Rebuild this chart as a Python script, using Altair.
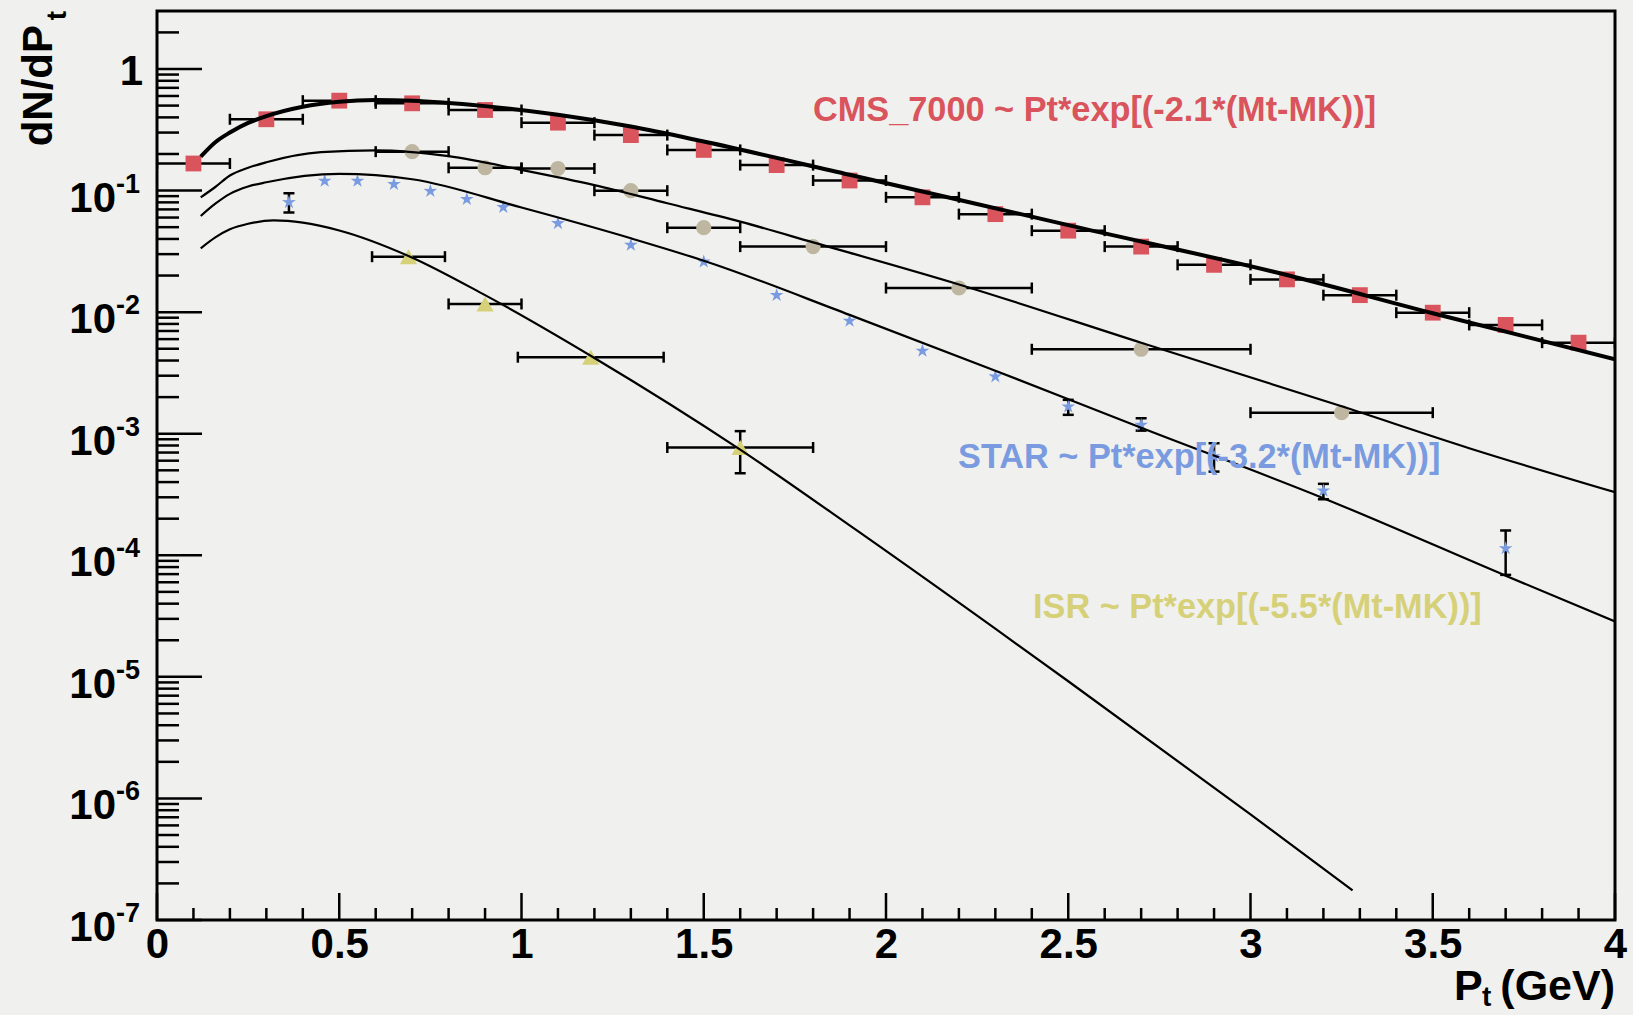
import altair as alt
import pandas as pd

# ---------------- data ----------------
# CMS 7 TeV points: pT bin centre, dN/dpT, half bin width
cms_pt = [0.1, 0.3, 0.5, 0.7, 0.9, 1.1, 1.3, 1.5, 1.7, 1.9,
          2.1, 2.3, 2.5, 2.7, 2.9, 3.1, 3.3, 3.5, 3.7, 3.9]
cms_y = [0.167, 0.386, 0.549, 0.522, 0.46, 0.362, 0.286, 0.216, 0.162, 0.121,
         0.088, 0.064, 0.0468, 0.0346, 0.0245, 0.0186, 0.0138, 0.0099, 0.00785, 0.00561]
cms_dx = [0.1, 0.1, 0.1, 0.1, 0.1, 0.1, 0.1, 0.1, 0.1, 0.1,
          0.1, 0.1, 0.1, 0.1, 0.1, 0.1, 0.1, 0.1, 0.1, 0.1]

# intermediate data set (circles)
mid_pt = [0.7, 0.9, 1.1, 1.3, 1.5, 1.8, 2.2, 2.7, 3.25]
mid_y = [0.209, 0.154, 0.152, 0.0998, 0.0495, 0.0346, 0.0158, 0.00495, 0.00149]
mid_dx = [0.1, 0.1, 0.1, 0.1, 0.1, 0.2, 0.2, 0.3, 0.25]

# STAR points (stars)
star_pt = [0.362, 0.46, 0.55, 0.65, 0.75, 0.85, 0.95, 1.1, 1.3, 1.5,
           1.7, 1.9, 2.1, 2.3, 2.5, 2.7, 2.9, 3.2, 3.7]
star_y = [0.080, 0.12, 0.12, 0.113, 0.099, 0.085, 0.073, 0.0538, 0.0357, 0.026,
          0.0138, 0.00847, 0.0048, 0.00295, 0.00167, 0.00118, 0.00065, 0.00034, 0.000114]
# STAR points with visible vertical errors
star_err_pt = [0.362, 2.5, 2.7, 2.9, 3.2, 3.7]
star_err_lo = [0.066, 0.00143, 0.00106, 0.000488, 0.000289, 0.000069]
star_err_hi = [0.095, 0.0019, 0.00134, 0.000835, 0.000387, 0.00016]

# ISR points (triangles)
isr_pt = [0.69, 0.9, 1.19, 1.6]
isr_y = [0.0286, 0.01168, 0.00426, 0.00077]
isr_dx = [0.1, 0.1, 0.2, 0.2]
isr_err_pt = [1.6]
isr_err_lo = [0.000473]
isr_err_hi = [0.00105]

# fitted curves Pt*exp[-b*(Mt-MK)]
fit_cms_pt = [0.12, 0.16, 0.2, 0.25, 0.3, 0.4, 0.5, 0.6, 0.7, 0.9, 1.1, 1.3, 1.5,
              1.9, 2.5, 3.1, 3.5, 4.0]
fit_cms_y = [0.19, 0.25, 0.30, 0.36, 0.41, 0.49, 0.538, 0.555, 0.549, 0.495, 0.42,
             0.336, 0.253, 0.135, 0.052, 0.0202, 0.0098, 0.0041]

fit_mid_pt = [0.12, 0.16, 0.2, 0.25, 0.3, 0.45, 0.6, 0.8, 1.0, 1.2, 1.4, 1.6, 1.8,
              2.2, 2.7, 3.25, 3.6, 4.0]
fit_mid_y = [0.088, 0.107, 0.133, 0.154, 0.171, 0.207, 0.214, 0.192, 0.148, 0.111,
             0.0786, 0.0555, 0.0375, 0.0169, 0.0056, 0.00168, 0.00076, 0.00033]

fit_star_pt = [0.12, 0.16, 0.2, 0.25, 0.3, 0.5, 0.7, 1.0, 1.3, 1.5, 1.9, 2.3, 2.7,
               3.2, 3.7, 4.0]
fit_star_y = [0.0618, 0.078, 0.094, 0.108, 0.117, 0.137, 0.124, 0.0725, 0.0405,
              0.0265, 0.0095, 0.0033, 0.00112, 0.000295, 0.000068, 0.0000285]

fit_isr_pt = [0.12, 0.16, 0.2, 0.25, 0.32, 0.4, 0.5, 0.69, 0.9, 1.2, 1.6, 1.92,
              2.5, 3.0, 3.28]
fit_isr_y = [0.0335, 0.0412, 0.048, 0.0533, 0.0568, 0.0545, 0.047, 0.029, 0.0138,
             0.0042, 0.00074, 0.00016, 0.0000092, 0.00000074, 0.000000175]

# axis tick values and labels
x_label_values = [0, 0.5, 1, 1.5, 2, 2.5, 3, 3.5, 4]
x_minor = [round(0.1 * i, 1) for i in range(1, 40) if i % 5 != 0]
y_decades = [1e-1, 1e-2, 1e-3, 1e-4, 1e-5, 1e-6, 1e-7]
y_exponents = ["-1", "-2", "-3", "-4", "-5", "-6", "-7"]
y_major = [1.0] + y_decades
y_minor = [2.0] + [k * d for d in y_decades for k in range(2, 10)]

# ---------------- chart ----------------
W, H = 1458, 909
FONT = "Liberation Sans"
RED, GREY, BLUE, YELLOW = "#d9545c", "#beb6a0", "#7a9be0", "#d6d078"
BG = "#f0f1ee"

xs = alt.Scale(domain=[0, 4], nice=False, zero=False)
ys = alt.Scale(type="log", domain=[1e-7, 3], nice=False)
x_axis = alt.Axis(values=x_label_values, format="~g", ticks=False, domain=False,
                  grid=False, labelFlush=False, labelOverlap=False,
                  labelFont=FONT, labelFontWeight="bold", labelFontSize=42,
                  labelColor="black", labelPadding=4, title=None)


def X(field):
    return alt.X(field, type="quantitative", scale=xs, axis=x_axis)


def Y(field):
    return alt.Y(field, type="quantitative", scale=ys, axis=None)


def X2(field):
    return alt.X2(field)


def Y2(field):
    return alt.Y2(field)


def points(pt, y, dx=None):
    df = pd.DataFrame({"pt": pt, "y": y})
    if dx is not None:
        df["lo"] = [p - d for p, d in zip(pt, dx)]
        df["hi"] = [p + d for p, d in zip(pt, dx)]
    return df


cms = points(cms_pt, cms_y, cms_dx)
mid = points(mid_pt, mid_y, mid_dx)
star = points(star_pt, star_y)
isr = points(isr_pt, isr_y, isr_dx)
star_err = pd.DataFrame({"pt": star_err_pt, "lo": star_err_lo, "hi": star_err_hi})
isr_err = pd.DataFrame({"pt": isr_err_pt, "lo": isr_err_lo, "hi": isr_err_hi})

layers = []

# inward ticks on the left and bottom edges
ymaj = pd.DataFrame({"v": y_major})
ymin = pd.DataFrame({"v": y_minor})
layers.append(alt.Chart(ymaj).mark_rule(color="black", strokeWidth=2.5).encode(
    y=Y("v"), x=alt.value(0), x2=alt.value(45)))
layers.append(alt.Chart(ymin).mark_rule(color="black", strokeWidth=2.5).encode(
    y=Y("v"), x=alt.value(0), x2=alt.value(22)))
xmaj = pd.DataFrame({"v": x_label_values})
xmin = pd.DataFrame({"v": x_minor})
layers.append(alt.Chart(xmaj).mark_rule(color="black", strokeWidth=2.5).encode(
    x=X("v"), y=alt.value(H), y2=alt.value(H - 27)))
layers.append(alt.Chart(xmin).mark_rule(color="black", strokeWidth=2.5).encode(
    x=X("v"), y=alt.value(H), y2=alt.value(H - 12)))

# horizontal error bars with end caps
for df in (cms, mid, isr):
    layers.append(alt.Chart(df).mark_rule(color="black", strokeWidth=2.5, clip=True).encode(
        x=X("lo"), x2=X2("hi"), y=Y("y")))
    for end in ("lo", "hi"):
        layers.append(alt.Chart(df).mark_tick(orient="vertical", color="black", size=11,
                                              thickness=2.5, clip=True, opacity=1).encode(
            x=X(end), y=Y("y")))

# vertical error bars with end caps
for df in (star_err, isr_err):
    layers.append(alt.Chart(df).mark_rule(color="black", strokeWidth=2.5, clip=True).encode(
        x=X("pt"), y=Y("lo"), y2=Y2("hi")))
    for end in ("lo", "hi"):
        layers.append(alt.Chart(df).mark_tick(orient="horizontal", color="black", size=11,
                                              thickness=2.5, clip=True, opacity=1).encode(
            x=X("pt"), y=Y(end)))

STAR_PATH = ("M0,-1L0.223,-0.307L0.951,-0.309L0.361,0.117L0.588,0.809L0,0.38"
             "L-0.588,0.809L-0.361,0.117L-0.951,-0.309L-0.223,-0.307Z")

layers.append(alt.Chart(cms).mark_point(shape="square", filled=True, size=250, color=RED,
                                        opacity=1, clip=True).encode(x=X("pt"), y=Y("y")))
layers.append(alt.Chart(mid).mark_point(shape="circle", filled=True, size=230, color=GREY,
                                        opacity=1, clip=True).encode(x=X("pt"), y=Y("y")))
layers.append(alt.Chart(star).mark_point(shape=STAR_PATH, filled=True, size=210, color=BLUE,
                                         opacity=1, clip=True).encode(x=X("pt"), y=Y("y")))
layers.append(alt.Chart(isr).mark_point(shape="triangle-up", filled=True, size=300, color=YELLOW,
                                        opacity=1, clip=True).encode(x=X("pt"), y=Y("y")))

# fitted curves
for pt, y, w in ((fit_cms_pt, fit_cms_y, 4), (fit_mid_pt, fit_mid_y, 2.2),
                 (fit_star_pt, fit_star_y, 2.2), (fit_isr_pt, fit_isr_y, 2.2)):
    df = pd.DataFrame({"pt": pt, "y": y})
    layers.append(alt.Chart(df).mark_line(color="black", strokeWidth=w, interpolate="monotone",
                                          clip=True).encode(x=X("pt"), y=Y("y")))

# curve annotations
notes = pd.DataFrame({
    "text": ["CMS_7000 ~ Pt*exp[(-2.1*(Mt-MK))]",
             "STAR ~ Pt*exp[(-3.2*(Mt-MK))]",
             "ISR ~ Pt*exp[(-5.5*(Mt-MK))]"],
    "color": [RED, BLUE, YELLOW],
    "px": [656, 801, 876],
    "py": [110, 457, 607],
})
layers.append(alt.Chart(notes).mark_text(font=FONT, fontWeight="bold", fontSize=34.3,
                                         align="left", baseline="alphabetic").encode(
    text="text:N", color=alt.Color("color:N", scale=None),
    x=alt.X("px:Q", scale=None), y=alt.Y("py:Q", scale=None)))

# y tick labels: 1 and 10^n
one = pd.DataFrame({"v": [1.0], "t": ["1"]})
layers.append(alt.Chart(one).mark_text(font=FONT, fontWeight="bold", fontSize=42, align="right",
                                       baseline="middle", dy=3, color="black").encode(
    y=Y("v"), x=alt.value(-14), text="t:N"))
dec = pd.DataFrame({"v": y_decades, "e": y_exponents, "b": ["10"] * len(y_decades)})
layers.append(alt.Chart(dec).mark_text(font=FONT, fontWeight="bold", fontSize=42, align="right",
                                       baseline="middle", dy=8, color="black").encode(
    y=Y("v"), x=alt.value(-41), text="b:N"))
layers.append(alt.Chart(dec).mark_text(font=FONT, fontWeight="bold", fontSize=27, align="left",
                                       baseline="middle", dy=-6, color="black").encode(
    y=Y("v"), x=alt.value(-41), text="e:N"))

# axis titles
ttl = pd.DataFrame({"t": ["dN/dP"]})
layers.append(alt.Chart(ttl).mark_text(font=FONT, fontWeight="bold", fontSize=42, angle=270,
                                       align="right", baseline="alphabetic", color="black").encode(
    x=alt.value(-105), y=alt.value(14), text="t:N"))
sub = pd.DataFrame({"t": ["t"]})
layers.append(alt.Chart(sub).mark_text(font=FONT, fontWeight="bold", fontSize=28, angle=270,
                                       align="right", baseline="alphabetic", color="black").encode(
    x=alt.value(-91), y=alt.value(0), text="t:N"))
xt1 = pd.DataFrame({"t": ["P"]})
layers.append(alt.Chart(xt1).mark_text(font=FONT, fontWeight="bold", fontSize=43, align="left",
                                       baseline="alphabetic", color="black").encode(
    x=alt.value(1297), y=alt.value(989), text="t:N"))
layers.append(alt.Chart(sub).mark_text(font=FONT, fontWeight="bold", fontSize=28, align="left",
                                       baseline="alphabetic", color="black").encode(
    x=alt.value(1325), y=alt.value(995), text="t:N"))
xt2 = pd.DataFrame({"t": ["(GeV)"]})
layers.append(alt.Chart(xt2).mark_text(font=FONT, fontWeight="bold", fontSize=43, align="right",
                                       baseline="alphabetic", color="black").encode(
    x=alt.value(W), y=alt.value(989), text="t:N"))

chart = alt.layer(*layers).properties(
    width=W, height=H,
    autosize=alt.AutoSizeParams(type="none"),
    padding={"left": 157, "top": 11, "right": 18, "bottom": 95},
    background=BG,
).configure_view(stroke="black", strokeWidth=3, fill=BG)

chart.save("out.html", embed_options={"renderer": "svg", "actions": False})
